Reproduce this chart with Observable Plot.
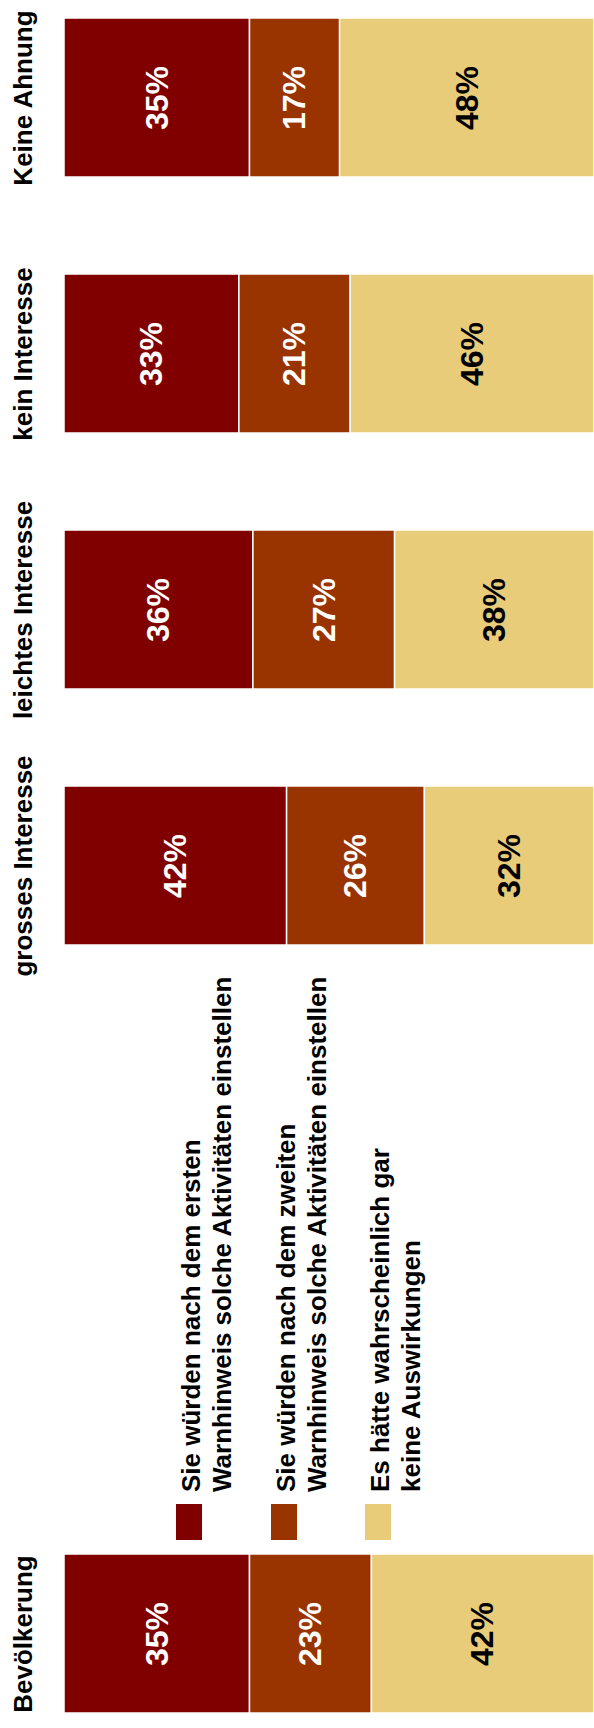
<!DOCTYPE html>
<html><head><meta charset="utf-8">
<script src="https://cdn.jsdelivr.net/npm/d3@7"></script>
<script src="https://cdn.jsdelivr.net/npm/@observablehq/plot@0.6"></script>
<style>
html,body{margin:0;padding:0;background:#fff;overflow:hidden}
#wrap{position:relative;width:594px;height:1728px}
#legend{position:absolute;left:176px;top:1540px;transform-origin:0 0;transform:rotate(-90deg);font-family:"Liberation Sans",Arial,Helvetica,sans-serif;font-weight:bold;font-size:26px;line-height:31px;color:#000}
.item{position:absolute;left:0;white-space:nowrap}
.sw{position:absolute;left:0;top:0;width:36px;height:26px}
.lab{position:absolute;left:48px;top:0}
</style></head><body><div id="wrap"></div>
<script>
const categories = ["Keine Ahnung", "kein Interesse", "leichtes Interesse", "grosses Interesse", "Bevölkerung"];
const slots = ["Keine Ahnung", "kein Interesse", "leichtes Interesse", "grosses Interesse", " ", "  ", "Bevölkerung"];
const series = [
  "Sie würden nach dem ersten Warnhinweis solche Aktivitäten einstellen",
  "Sie würden nach dem zweiten Warnhinweis solche Aktivitäten einstellen",
  "Es hätte wahrscheinlich gar keine Auswirkungen"
];
const legendLines = [
  ["Sie würden nach dem ersten", "Warnhinweis solche Aktivitäten einstellen"],
  ["Sie würden nach dem zweiten", "Warnhinweis solche Aktivitäten einstellen"],
  ["Es hätte wahrscheinlich gar", "keine Auswirkungen"]
];
const firstWarning = [35, 33, 36, 42, 35];
const secondWarning = [17, 21, 27, 26, 23];
const noEffect = [48, 46, 38, 32, 42];
const colors = ["#800000", "#993300", "#E8CC7A"];

const valuesBySeries = [firstWarning, secondWarning, noEffect];
const rows = [];
categories.forEach((c, i) => {
  valuesBySeries.forEach((arr, j) => rows.push({category: c, series: series[j], value: arr[i]}));
});

const font = '"Liberation Sans", Arial, Helvetica, sans-serif';
const stackOpts = {x: "value", y: "category", z: "series", offset: "normalize"};

const chart = Plot.plot({
  width: 594,
  height: 1728,
  marginTop: 15,
  marginBottom: 12,
  marginLeft: 64,
  marginRight: 0,
  style: {fontFamily: font, background: "white"},
  x: {domain: [0, 1], axis: null},
  y: {domain: slots, paddingInner: 0.38, paddingOuter: 0, axis: null},
  color: {domain: series, range: colors},
  marks: [
    Plot.barX(rows, Plot.stackX({...stackOpts, fill: "series", stroke: "white", strokeWidth: 1.5})),
    Plot.text(rows, Plot.stackX({...stackOpts,
      text: d => d.series === series[2] ? "" : d.value + "%",
      fill: "white", rotate: -90, fontSize: 32, fontWeight: "bold"})),
    Plot.text(rows, Plot.stackX({...stackOpts,
      text: d => d.series === series[2] ? d.value + "%" : "",
      fill: "black", rotate: -90, fontSize: 32, fontWeight: "bold"})),
    Plot.text(categories, {y: d => d, text: d => d, frameAnchor: "left", dx: -41,
      textAnchor: "middle", lineAnchor: "middle",
      rotate: -90, fontSize: 26, fontWeight: "bold", fill: "black"})
  ]
});

const wrap = document.getElementById("wrap");
wrap.appendChild(chart);

const legend = document.createElement("div");
legend.id = "legend";
series.forEach((s, i) => {
  const item = document.createElement("div");
  item.className = "item";
  item.style.top = (i * 94.5) + "px";
  const sw = document.createElement("div");
  sw.className = "sw";
  sw.style.background = colors[i];
  const lab = document.createElement("div");
  lab.className = "lab";
  lab.innerHTML = legendLines[i].join("<br>");
  item.appendChild(sw);
  item.appendChild(lab);
  legend.appendChild(item);
});
wrap.appendChild(legend);
</script>
</body></html>
